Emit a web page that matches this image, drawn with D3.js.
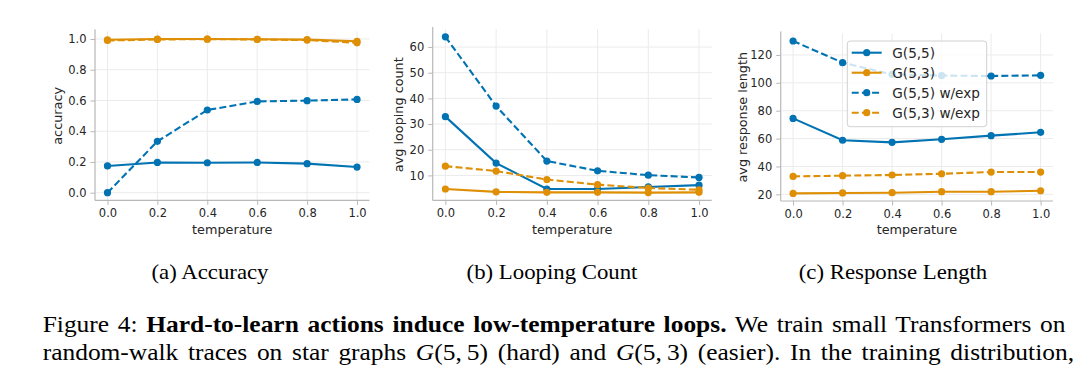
<!DOCTYPE html>
<html>
<head>
<meta charset="utf-8">
<script src="https://cdn.jsdelivr.net/npm/d3@7"></script>
<style>
  body { margin: 0; background: #fff; }
  svg { display: block; }
</style>
</head>
<body>
<svg id="chart" width="1080" height="368"></svg>
<script>
// temperatures on the x axis
const temps = [0, 0.2, 0.4, 0.6, 0.8, 1.0];
const seriesNames = ["G(5,5)", "G(5,3)", "G(5,5) w/exp", "G(5,3) w/exp"];

// (a) accuracy
const accG55 = [0.174, 0.197, 0.195, 0.197, 0.189, 0.167];
const accG53 = [0.995, 1.0, 1.0, 0.998, 0.996, 0.985];
const accG55exp = [0.0, 0.334, 0.538, 0.594, 0.599, 0.607];
const accG53exp = [0.99, 0.997, 0.999, 0.997, 0.993, 0.975];

// (b) looping count
const loopG55 = [32.9, 14.8, 4.7, 4.7, 5.5, 6.2];
const loopG53 = [4.7, 3.6, 3.4, 3.4, 3.3, 3.4];
const loopG55exp = [64.0, 37.0, 15.6, 11.8, 10.1, 9.2];
const loopG53exp = [13.6, 11.7, 8.4, 6.4, 5.1, 4.4];

// (c) response length
const lenG55 = [74.5, 58.8, 57.3, 59.5, 62.1, 64.5];
const lenG53 = [20.7, 21.0, 21.2, 21.9, 21.9, 22.6];
const lenG55exp = [130.0, 114.5, 106.0, 105.2, 104.9, 105.4];
const lenG53exp = [32.9, 33.4, 33.9, 34.8, 36.0, 36.0];

const xTicks = [0, 0.2, 0.4, 0.6, 0.8, 1.0];
const accTicks = [0, 0.2, 0.4, 0.6, 0.8, 1.0];
const loopTicks = [10, 20, 30, 40, 50, 60];
const lenTicks = [20, 40, 60, 80, 100, 120];

const subCaptions = ["(a) Accuracy", "(b) Looping Count", "(c) Response Length"];

const blue = "#0173b2", orange = "#de8f05";
const styles = [
  {color: blue, dash: null},
  {color: orange, dash: null},
  {color: blue, dash: "7,3.2"},
  {color: orange, dash: "7,3.2"}
];

const panels = [
  {series: [accG55, accG53, accG55exp, accG53exp], ylabel: "accuracy", yTicks: accTicks, fmt: d3.format(".1f"),
   left: 95, right: 369.5, top: 31.3, bottom: 200.4, yLabelX: 57, capX: 210},
  {series: [loopG55, loopG53, loopG55exp, loopG53exp], ylabel: "avg looping count", yTicks: loopTicks, fmt: d3.format("d"),
   left: 432.7, right: 711.7, top: 29, bottom: 200.4, yLabelX: 398.5, capX: 552, legend: false},
  {series: [lenG55, lenG53, lenG55exp, lenG53exp], ylabel: "avg response length", yTicks: lenTicks, fmt: d3.format("d"),
   left: 780.7, right: 1053, top: 33.4, bottom: 201, yLabelX: 742, capX: 893, legend: true}
];

const svg = d3.select("#chart");
const textColor = "#262626";
const spineColor = "#b8b8b8";
const gridColor = "#ebebeb";
const stretch = 1.06; // the printed text is a little wider than the serif font

panels.forEach(function(p, pi) {
  const all = p.series.flat();
  const lo = d3.min(all), hi = d3.max(all);
  const pad = (hi - lo) * 0.05;
  const x = d3.scaleLinear().domain([-0.05, 1.05]).range([p.left, p.right]);
  const y = d3.scaleLinear().domain([lo - pad, hi + pad]).range([p.bottom, p.top]);

  const g = svg.append("g");

  // grid
  g.selectAll(".hgrid").data(p.yTicks).enter().append("line")
    .attr("x1", p.left).attr("x2", p.right)
    .attr("y1", d => y(d)).attr("y2", d => y(d))
    .attr("stroke", gridColor).attr("stroke-width", 1);
  g.selectAll(".vgrid").data(xTicks).enter().append("line")
    .attr("y1", p.top).attr("y2", p.bottom)
    .attr("x1", d => x(d)).attr("x2", d => x(d))
    .attr("stroke", gridColor).attr("stroke-width", 1);

  // axes
  const xAxis = g.append("g")
    .attr("transform", "translate(0," + p.bottom + ")")
    .call(d3.axisBottom(x).tickValues(xTicks).tickFormat(d3.format(".1f")).tickSize(4.5).tickPadding(4));
  const yAxis = g.append("g")
    .attr("transform", "translate(" + p.left + ",0)")
    .call(d3.axisLeft(y).tickValues(p.yTicks).tickFormat(p.fmt).tickSize(4.5).tickPadding(4));
  [xAxis, yAxis].forEach(function(a) {
    a.select(".domain").remove();
    a.selectAll(".tick line").attr("stroke", spineColor).attr("stroke-width", 1);
    a.selectAll("text").attr("fill", textColor)
      .style("font-family", "DejaVu Sans").style("font-size", "11.5px");
  });
  // spines
  g.append("line").attr("x1", p.left).attr("x2", p.left).attr("y1", p.top - 2).attr("y2", p.bottom)
    .attr("stroke", spineColor).attr("stroke-width", 1.2);
  g.append("line").attr("x1", p.left).attr("x2", p.right).attr("y1", p.bottom).attr("y2", p.bottom)
    .attr("stroke", spineColor).attr("stroke-width", 1.2);

  // axis labels
  g.append("text").attr("x", (p.left + p.right) / 2).attr("y", 233.5)
    .attr("text-anchor", "middle").attr("fill", textColor)
    .style("font-family", "DejaVu Sans").style("font-size", "12.8px").text("temperature");
  g.append("text").attr("transform", "translate(" + (p.yLabelX + 4.5) + "," + ((p.top + p.bottom) / 2) + ") rotate(-90)")
    .attr("text-anchor", "middle").attr("fill", textColor)
    .style("font-family", "DejaVu Sans").style("font-size", "12.8px").text(p.ylabel);

  // lines
  const line = d3.line().x((d, i) => x(temps[i])).y(d => y(d));
  p.series.forEach(function(vals, si) {
    const s = styles[si];
    g.append("path").datum(vals).attr("d", line)
      .attr("fill", "none").attr("stroke", s.color).attr("stroke-width", 2.1)
      .attr("stroke-dasharray", s.dash);
    g.selectAll(".pt" + si).data(vals).enter().append("circle")
      .attr("cx", (d, i) => x(temps[i])).attr("cy", d => y(d)).attr("r", 3.6)
      .attr("fill", s.color);
  });

  // legend
  if (p.legend) {
    const lg = g.append("g");
    lg.append("rect").attr("x", 847.3).attr("y", 41).attr("width", 139.4).attr("height", 85.7)
      .attr("rx", 3).attr("fill", "#fff").attr("fill-opacity", 0.8)
      .attr("stroke", "#d0d0d0").attr("stroke-width", 1);
    const rowY = d3.scalePoint().domain(seriesNames).range([52.7, 112.7]);
    seriesNames.forEach(function(name, si) {
      const s = styles[si];
      const yy = rowY(name);
      lg.append("line").attr("x1", 851.7).attr("x2", 881.7).attr("y1", yy).attr("y2", yy)
        .attr("stroke", s.color).attr("stroke-width", 2.1).attr("stroke-dasharray", s.dash);
      lg.append("circle").attr("cx", 866.7).attr("cy", yy).attr("r", 3.6).attr("fill", s.color);
      lg.append("text").attr("x", 892.3).attr("y", yy + 4.9).attr("fill", textColor)
        .style("font-family", "DejaVu Sans").style("font-size", "13.6px").text(name);
    });
  }

  // sub caption
  svg.append("text").attr("transform", "translate(" + p.capX + ",278.5) scale(" + stretch + ",1)")
    .attr("text-anchor", "middle")
    .attr("fill", "#000").style("font-family", "Liberation Serif").style("font-size", "21.5px")
    .text(subCaptions[pi]);
});

// figure caption, justified
const thin = "\u2009";
const captionLines = [
  {y: 331.5, right: 1065.5, parts: [
    {t: "Figure 4: "},
    {t: "Hard-to-learn actions induce low-temperature loops.", w: "bold"},
    {t: " We train small Transformers on"}]},
  {y: 359.5, right: 1074, parts: [
    {t: "random-walk traces on star graphs "},
    {t: "G", i: true}, {t: "(5," + thin + "5) (hard) and "},
    {t: "G", i: true}, {t: "(5," + thin + "3) (easier). In the training distribution,"}]}
];
captionLines.forEach(function(cl) {
  const t = svg.append("text")
    .attr("transform", "translate(42.7," + cl.y + ") scale(" + stretch + ",1)")
    .attr("fill", "#000")
    .style("font-family", "Liberation Serif").style("font-size", "24px")
    .attr("xml:space", "preserve");
  cl.parts.forEach(function(pt) {
    t.append("tspan").text(pt.t)
      .style("font-weight", pt.w || "normal")
      .style("font-style", pt.i ? "italic" : "normal");
  });
  const full = cl.parts.map(d => d.t).join("");
  const spaces = (full.match(/ /g) || []).length;
  const len = t.node().getComputedTextLength();
  const extra = ((cl.right - 42.7) / stretch - len) / spaces;
  t.style("word-spacing", extra + "px");
});
</script>
</body>
</html>
